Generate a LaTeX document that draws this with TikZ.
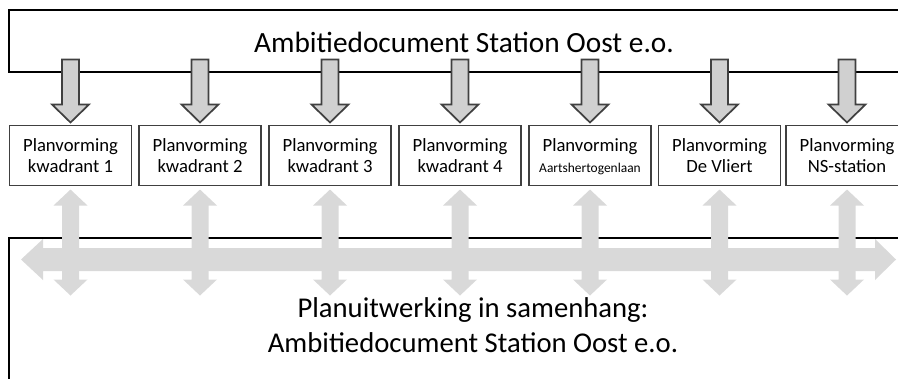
\documentclass[tikz,border=0pt]{standalone}
\usepackage{fontspec}
\setmainfont{Carlito}
\definecolor{pijlgrijs}{HTML}{D0D0D0}
\definecolor{lichtgrijs}{HTML}{D9D9D9}
\definecolor{randgrijs}{HTML}{404040}
\newcommand{\klein}[1]{\smash{\scalebox{0.72}{#1}}\vphantom{kwadrant}}
\tikzset{
  planbox/.style={draw=randgrijs, line width=0.8pt, minimum width=91.5pt, minimum height=45pt,
    inner sep=1pt, align=center, font=\fontsize{14}{15.75}\selectfont},
  neerpijl/.style={draw=randgrijs, fill=pijlgrijs, line width=1.3pt, line join=miter},
  dubbelpijl/.style={fill=lichtgrijs}
}
\begin{document}
\begin{tikzpicture}[x=0.75pt,y=-0.75pt]
            \useasboundingbox (0,0) rectangle (898,378);

            % top box with title
            \draw[line width=0.9pt] (9,10) rectangle (930,72);
            \node[font=\fontsize{22}{26}\selectfont, anchor=base] (titel) at (464,53) {Ambitiedocument Station Oost e.o.};

            % planning boxes
            \foreach \x/\naam [count=\i] in {70.5/kwadrant 1, 200/kwadrant 2, 330/kwadrant 3, 460/kwadrant 4,
                590/\klein{Aartshertogenlaan}, 719.5/De Vliert, 847/NS-station} {
              \node[planbox] (pv\i) at (\x,155.5) {Planvorming\\\naam};
            }

            % bottom box
            \draw[line width=1.4pt] (9,390) -- (9,238) -- (930,238);
            \node[font=\fontsize{21.5}{26.25}\selectfont, align=center] (uitwerking) at (473,325)
              {Planuitwerking in samenhang:\\Ambitiedocument Station Oost e.o.};

            % arrows down from the title box
            \foreach \i in {1,...,7} {
              \draw[neerpijl, shift={(pv\i.north)}] (-8.5,-65.5) -- (8.5,-65.5) -- (8.5,-20.5) -- (18.5,-20.5)
                -- (0,-2.5) -- (-18.5,-20.5) -- (-8.5,-20.5) -- cycle;
            }

            % light double arrows
            \fill[dubbelpijl] (21,259.5) -- (43,239) -- (43,248) -- (875,248) -- (875,239) -- (896,259.5)
              -- (875,280) -- (875,271) -- (43,271) -- (43,280) -- cycle;
            \foreach \i in {1,...,7} {
              \fill[dubbelpijl, shift={(pv\i.south)}] (0,3.5) -- (17,19.5) -- (8.5,19.5) -- (8.5,93.5) -- (17,93.5)
                -- (0,109.5) -- (-17,93.5) -- (-8.5,93.5) -- (-8.5,19.5) -- (-17,19.5) -- cycle;
            }
\end{tikzpicture}
\end{document}
